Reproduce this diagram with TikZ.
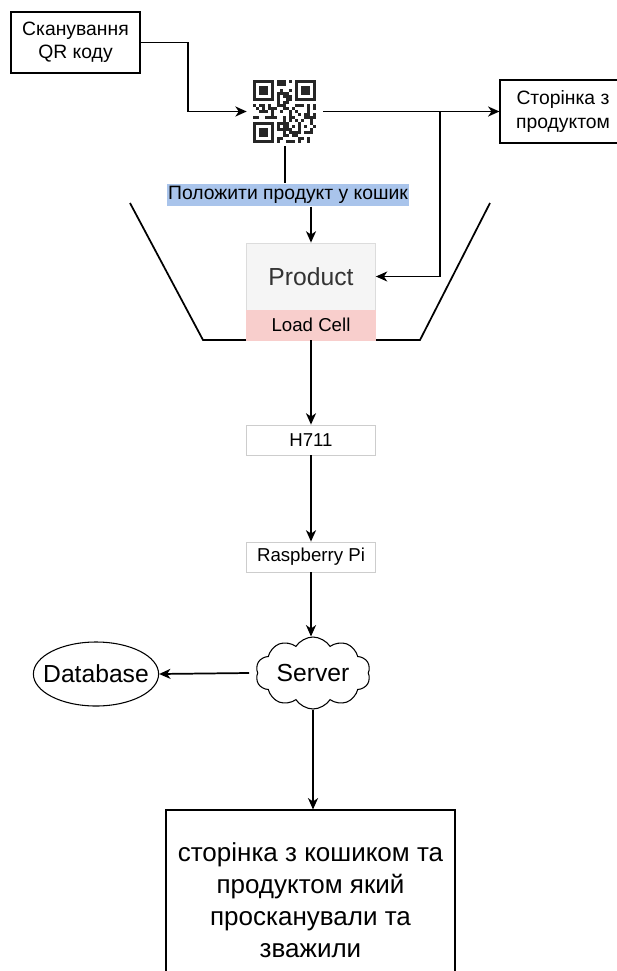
\documentclass[tikz,border=0pt]{standalone}
\usepackage{fontspec}
\setmainfont{Liberation Sans}
\usetikzlibrary{shapes.geometric,shapes.symbols,arrows.meta}
\definecolor{hilite}{RGB}{169,196,235}
\definecolor{prodfill}{RGB}{245,245,245}
\definecolor{prodline}{RGB}{220,220,220}
\definecolor{cellfill}{RGB}{248,206,204}
\definecolor{thinline}{RGB}{205,205,205}
\definecolor{darktext}{RGB}{51,51,51}
\begin{document}
\begin{tikzpicture}[x=0.75pt,y=-0.75pt,
  line/.style={line width=1.3pt,draw=black},
  arr/.style={line, -{Stealth[length=8.5pt,width=7.5pt,inset=2.5pt]}},
  box/.style={draw=black,line width=0.8pt,inner sep=0pt,align=center},
  smallbox/.style={draw=thinline,line width=0.6pt,fill=white,inner sep=0pt,
    minimum width=96.75pt,minimum height=22.5pt,font=\fontsize{14}{16}\selectfont},
  bigtext/.style={font=\fontsize{18.5}{22}\selectfont}]
\useasboundingbox (0,0) rectangle (617,971);
\clip (0,0) rectangle (617,971);

% basket outline
\draw[line] (130,203) -- (203,340) -- (420,340) -- (490,203);

% nodes
\node[box,minimum width=96.75pt,minimum height=45.75pt,
  font=\fontsize{14.5}{17.5}\selectfont] (scan) at (75.5,42.5) {Сканування\\QR коду};
\node[inner sep=0pt,minimum width=57pt,minimum height=52pt] (qr) at (285,111.5) {};
\node[box,minimum width=94.5pt,minimum height=47.25pt,
  font=\fontsize{14.5}{17.5}\selectfont] (page) at (563,111.5) {Сторінка з\\продуктом};
\node[fill=hilite,inner xsep=1pt,inner ysep=2pt,
  font=\fontsize{14.5}{16}\selectfont] (put) at (288,195) {Положити продукт у кошик};
\node[draw=prodline,fill=prodfill,line width=0.6pt,inner sep=0pt,
  minimum width=96.75pt,minimum height=50.25pt,text=darktext,
  bigtext] (product) at (311,276.5) {Product};
\node[draw=cellfill,fill=cellfill,inner sep=0pt,minimum width=96.75pt,
  minimum height=22.5pt,font=\fontsize{14}{16}\selectfont] (cell) at (311,325) {Load Cell};
\node[smallbox] (hx) at (311,440) {H711};
\node[smallbox] (rpi) at (311,557) {Raspberry Pi};
\node[cloud,draw,line width=0.8pt,cloud puffs=10,cloud puff arc=115,
  cloud ignores aspect,minimum width=86pt,minimum height=54pt,inner sep=0pt,
  bigtext] (server) at (313,673) {Server};
\node[ellipse,draw,line width=0.8pt,minimum height=48pt,inner xsep=-6.4pt,
  inner ysep=6pt,bigtext] (db) at (96,674) {Database};
\node[box,minimum width=216.75pt,minimum height=135pt,
  font=\fontsize{19.5}{24}\selectfont] (result) at (310.5,900)
  {сторінка з кошиком та\\продуктом який\\просканували та\\зважили};

% QR code
\begin{scope}[shift={(253,80)}]
  \pgfmathsetseed{20231}
  \foreach \i in {0,...,20} {
    \foreach \j in {0,...,20} {
      \pgfmathtruncatemacro\infinder{((\i<8)&&(\j<8))||((\i>12)&&(\j<8))||((\i<8)&&(\j>12))}
      \pgfmathtruncatemacro\on{rnd<0.5}
      \ifnum\infinder=0 \ifnum\on=1
        \fill[black!85] (\i*3,\j*3) rectangle ++(3,3);
      \fi\fi
    }
  }
  \foreach \a/\b in {0/0,14/0,0/14} {
    \fill[black!85] (\a*3,\b*3) rectangle ++(21,21);
    \fill[white] (\a*3+3,\b*3+3) rectangle ++(15,15);
    \fill[black!85] (\a*3+6,\b*3+6) rectangle ++(9,9);
  }
\end{scope}

% connectors
\coordinate (k1) at (188,42.5);
\coordinate (br) at (440,111.5);
\draw[arr] (scan.east) -- (k1) |- (qr.west);
\draw[arr] (qr.east) -- (page.west);
\draw[arr] (br) |- (product.east);
\draw[line] (qr.south) -- (qr.south |- put.north);
\draw[arr] (put.south -| product.north) -- (product.north);
\draw[arr] (cell.south) -- (hx.north);
\draw[arr] (hx.south) -- (rpi.north);
\draw[arr] (rpi.south) -- (rpi.south |- server.north);
\draw[arr] ([xshift=-6pt]server.west) -- (db.east);
\draw[arr] (server.south) -- (server.south |- result.north);
\end{tikzpicture}
\end{document}
